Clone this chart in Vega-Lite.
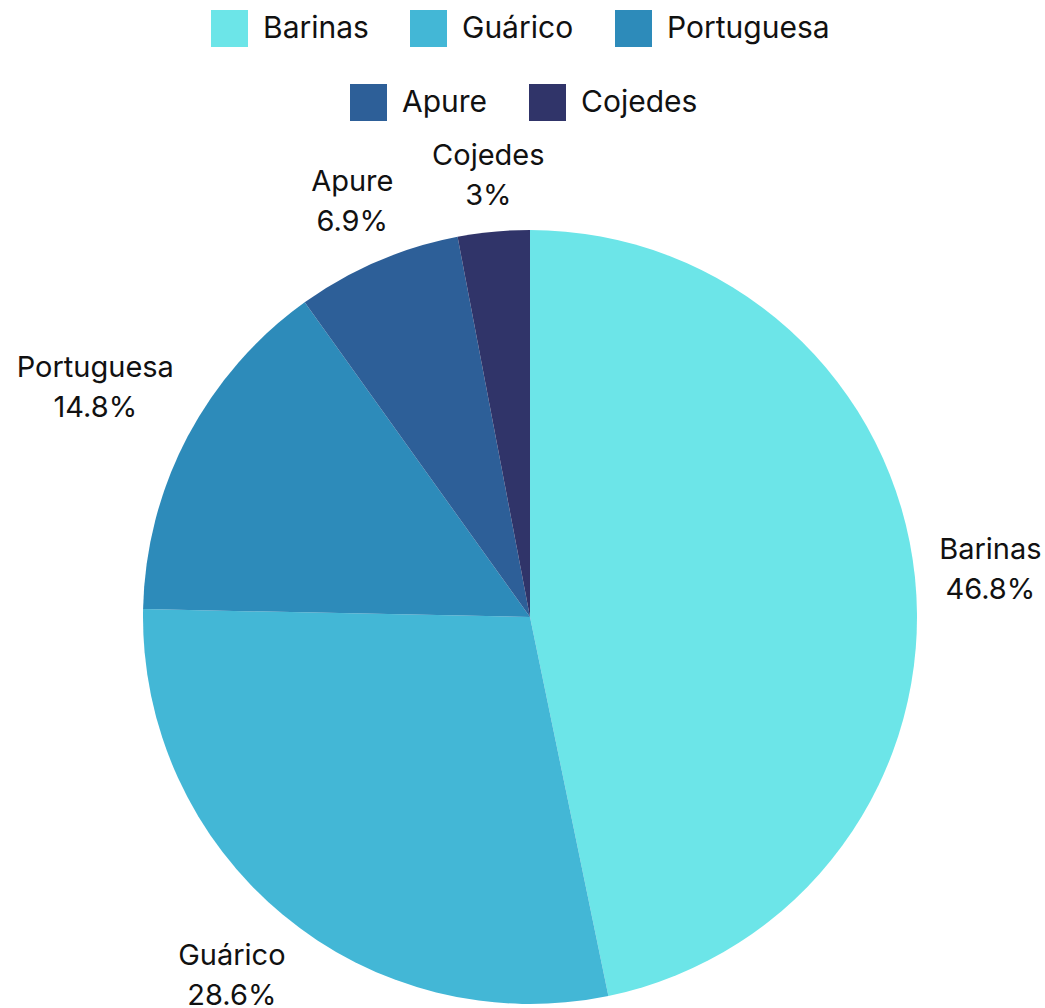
{
  "$schema": "https://vega.github.io/schema/vega-lite/v6.json",
  "width": 774,
  "height": 774,
  "autosize": {"type": "none"},
  "padding": {"left": 143, "top": 230, "right": 128, "bottom": 4},
  "background": "white",
  "config": {"view": {"stroke": null}, "font": "Inter", "text": {"color": "#111111"}},
  "data": {
    "values": [
      {"region": "Barinas", "value": 46.8},
      {"region": "Guárico", "value": 28.6},
      {"region": "Portuguesa", "value": 14.8},
      {"region": "Apure", "value": 6.9},
      {"region": "Cojedes", "value": 3}
    ]
  },
  "encoding": {
    "theta": {"field": "value", "type": "quantitative", "stack": true},
    "order": {"field": "value", "sort": "descending"}
  },
  "layer": [
    {
      "mark": {"type": "arc"},
      "encoding": {
        "fill": {
          "field": "region",
          "type": "nominal",
          "scale": {
            "domain": ["Barinas", "Guárico", "Portuguesa", "Apure", "Cojedes"],
            "range": ["#6CE5E8", "#43B7D6", "#2D8BBA", "#2D5F98", "#303469"]
          },
          "legend": {
            "orient": "none",
            "legendX": 68,
            "legendY": -220,
            "direction": "horizontal",
            "values": ["Barinas", "Guárico", "Portuguesa"],
            "title": null,
            "symbolType": "square",
            "symbolSize": 1369,
            "symbolStrokeWidth": 0,
            "labelFontSize": 30,
            "labelColor": "#111111",
            "labelOffset": 15,
            "columnPadding": 41,
            "padding": 0,
            "labelLimit": 400
          }
        }
      }
    },
    {
      "transform": [
        {"calculate": "datum.region + '\\n' + datum.value + '%'", "as": "label"}
      ],
      "mark": {
        "type": "text",
        "fontSize": 29,
        "lineBreak": "\n",
        "lineHeight": 40,
        "align": "center",
        "baseline": "middle",
        "dy": -20,
        "color": "#111111",
        "radius": {
          "expr": "402 + 8.2 * length(datum.region) * abs(sin((scale('theta', datum.value_start) + scale('theta', datum.value_end)) / 2)) + 36 * abs(cos((scale('theta', datum.value_start) + scale('theta', datum.value_end)) / 2))"
        }
      },
      "encoding": {"text": {"field": "label", "type": "nominal"}}
    },
    {
      "mark": {"type": "text"},
      "encoding": {
        "text": {"value": ""},
        "color": {
          "field": "region",
          "type": "nominal",
          "scale": {
            "domain": ["Apure", "Cojedes", "Barinas", "Guárico", "Portuguesa"],
            "range": ["#2D5F98", "#303469", "#6CE5E8", "#43B7D6", "#2D8BBA"]
          },
          "legend": {
            "orient": "none",
            "legendX": 207,
            "legendY": -146,
            "direction": "horizontal",
            "values": ["Apure", "Cojedes"],
            "title": null,
            "symbolType": "square",
            "symbolSize": 1369,
            "symbolStrokeWidth": 0,
            "labelFontSize": 30,
            "labelColor": "#111111",
            "labelOffset": 15,
            "columnPadding": 41,
            "padding": 0,
            "labelLimit": 400
          }
        }
      }
    }
  ]
}
